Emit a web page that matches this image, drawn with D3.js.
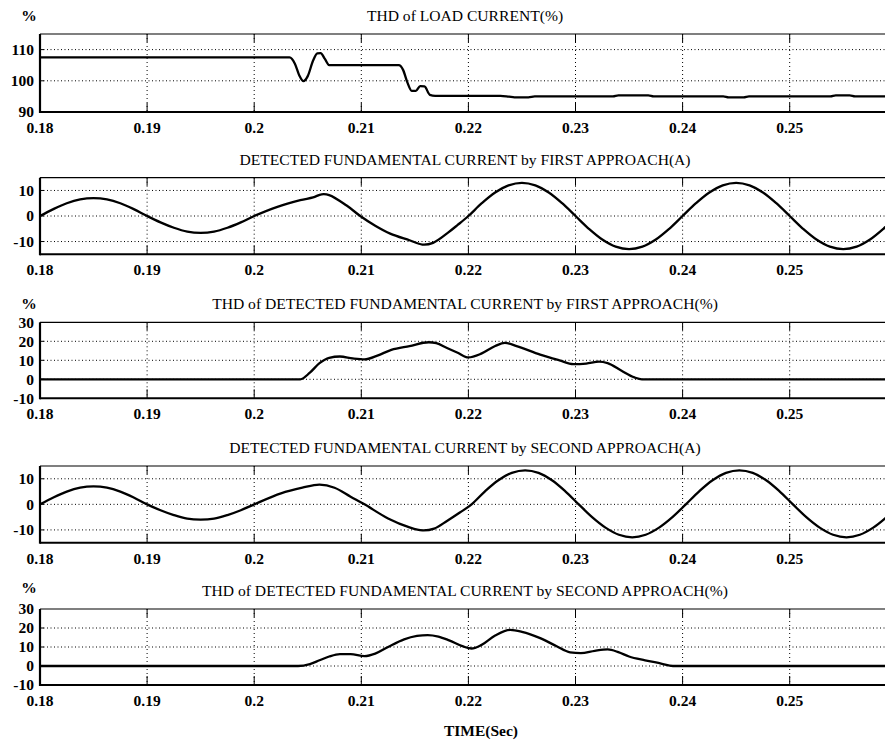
<!DOCTYPE html>
<html><head><meta charset="utf-8">
<script src="https://cdn.jsdelivr.net/npm/d3@7"></script>
<style>
html,body{margin:0;padding:0;background:#fff;overflow:hidden}
svg{display:block}
</style></head><body>
<svg id="chart" width="885" height="740"></svg>
<script>
// ---- data ----
const xTickVals = [0.18, 0.19, 0.20, 0.21, 0.22, 0.23, 0.24, 0.25];
const xTickLabels = ["0.18", "0.19", "0.2", "0.21", "0.22", "0.23", "0.24", "0.25"];

const titles = [
  "THD of LOAD CURRENT(%)",
  "DETECTED FUNDAMENTAL CURRENT by FIRST APPROACH(A)",
  "THD of DETECTED FUNDAMENTAL CURRENT by FIRST APPROACH(%)",
  "DETECTED FUNDAMENTAL CURRENT by SECOND APPROACH(A)",
  "THD of DETECTED FUNDAMENTAL CURRENT by SECOND APPROACH(%)"
];
const unitLabels = ["%", "", "%", "", "%"];
const xAxisTitle = "TIME(Sec)";

const yTicks1 = [90, 100, 110];
const yTicksCur = [-10, 0, 10];
const yTicksThd = [-10, 0, 10, 20, 30];

// Panel 1: THD of load current
const thdLoadT = [0.18, 0.2033, 0.2038, 0.2042, 0.2046, 0.2050, 0.2055, 0.2059, 0.2062, 0.2066, 0.2070, 0.2135, 0.2139, 0.2143, 0.2147, 0.2151, 0.2155, 0.2159, 0.2164, 0.2169, 0.2230, 0.2238, 0.2243, 0.2256, 0.2262, 0.2335, 0.2340, 0.2368, 0.2373, 0.2438, 0.2443, 0.2457, 0.2462, 0.2538, 0.2543, 0.2556, 0.2561, 0.26];
const thdLoadV = [107.5, 107.5, 105.5, 101.8, 99.9, 101.5, 106.5, 108.8, 108.9, 107, 105, 105, 103.5, 99.5, 96.8, 96.8, 98.3, 98.2, 95.5, 95.2, 95.2, 94.9, 94.7, 94.7, 95, 95, 95.3, 95.3, 95, 95, 94.7, 94.7, 95, 95, 95.3, 95.3, 95, 95];

// Panel 2: detected fundamental current, first approach
const fund1T = [0.18, 0.18125, 0.1825, 0.18375, 0.185, 0.18625, 0.1875, 0.18875, 0.19, 0.19125, 0.1925, 0.19375, 0.195, 0.19625, 0.1975, 0.19875, 0.2, 0.2021, 0.2043, 0.2055, 0.2063, 0.2070, 0.2086, 0.2099, 0.2113, 0.2127, 0.2145, 0.2157, 0.2167, 0.2181, 0.2190, 0.22, 0.22125, 0.2225, 0.22375, 0.225, 0.22625, 0.2275, 0.22875, 0.23, 0.23125, 0.2325, 0.23375, 0.235, 0.23625, 0.2375, 0.23875, 0.24, 0.24125, 0.2425, 0.24375, 0.245, 0.24625, 0.2475, 0.24875, 0.25, 0.25125, 0.2525, 0.25375, 0.255, 0.25625, 0.2575, 0.25875, 0.26];
const fund1V = [0, 2.7, 5, 6.5, 7, 6.5, 5, 2.7, 0, -2.5, -4.6, -6.1, -6.6, -6.1, -4.6, -2.5, 0, 3.5, 6.2, 7.3, 8.5, 8.2, 4.2, 0, -3.8, -6.9, -9.5, -11.2, -10.5, -6.5, -3.5, 0, 5, 9.2, 12, 13, 12, 9.2, 5, 0, -5, -9.2, -12, -13, -12, -9.2, -5, 0, 5, 9.2, 12, 13, 12, 9.2, 5, 0, -5, -9.2, -12, -13, -12, -9.2, -5, 0];

// Panel 3: THD of detected fundamental, first approach
const thd1T = [0.18, 0.2043, 0.2052, 0.2061, 0.2070, 0.2080, 0.2092, 0.2103, 0.2115, 0.2128, 0.2145, 0.2163, 0.2170, 0.2180, 0.2190, 0.2200, 0.2212, 0.2225, 0.2234, 0.2245, 0.2267, 0.2285, 0.2298, 0.2310, 0.2322, 0.2330, 0.2343, 0.2355, 0.2362, 0.26];
const thd1V = [0, 0, 3.5, 8.5, 11.3, 12, 11, 10.5, 12.5, 15.5, 17.5, 19.5, 19, 16.5, 14, 11.5, 13.5, 17.5, 19.2, 17.5, 13, 10, 8, 8.3, 9.3, 8.5, 4.5, 1, 0, 0];

// Panel 4: detected fundamental current, second approach
const fund2T = [0.18, 0.18125, 0.1825, 0.18375, 0.185, 0.18625, 0.1875, 0.18875, 0.19, 0.19125, 0.1925, 0.19375, 0.195, 0.19625, 0.1975, 0.19875, 0.2, 0.2025, 0.2045, 0.2061, 0.2075, 0.209, 0.2103, 0.2125, 0.2145, 0.2157, 0.2168, 0.2180, 0.2192, 0.2203, 0.22155, 0.2228, 0.22405, 0.2253, 0.22655, 0.2278, 0.22905, 0.2303, 0.23155, 0.2328, 0.23405, 0.2353, 0.23655, 0.2378, 0.23905, 0.2403, 0.24155, 0.2428, 0.24405, 0.2453, 0.24655, 0.2478, 0.24905, 0.2503, 0.25155, 0.2528, 0.25405, 0.2553, 0.25655, 0.2578, 0.25905, 0.2603];
const fund2V = [0, 2.7, 5, 6.5, 7, 6.5, 5, 2.7, 0, -2.3, -4.2, -5.6, -6, -5.6, -4.2, -2.3, 0, 4.3, 6.5, 7.7, 6.5, 3, 0, -5.5, -9, -10.2, -9.5, -6.5, -3.2, 0, 5.1, 9.4, 12.3, 13.3, 12.3, 9.4, 5.1, 0, -5, -9.1, -11.9, -12.9, -11.9, -9.1, -5, 0, 5.1, 9.4, 12.3, 13.3, 12.3, 9.4, 5.1, 0, -5, -9.1, -11.9, -12.9, -11.9, -9.1, -5, 0];

// Panel 5: THD of detected fundamental, second approach
const thd2T = [0.18, 0.2041, 0.2052, 0.2061, 0.2070, 0.2080, 0.2090, 0.2103, 0.2113, 0.2125, 0.2140, 0.2152, 0.2162, 0.2172, 0.2182, 0.2195, 0.2203, 0.2212, 0.2225, 0.2239, 0.2250, 0.2267, 0.2282, 0.2295, 0.2305, 0.2318, 0.2330, 0.2340, 0.2350, 0.2365, 0.2380, 0.2391, 0.26];
const thd2V = [0, 0, 1, 3, 5, 6.3, 6.3, 5.2, 6.5, 10, 14, 15.8, 16.3, 15.5, 13.5, 10.3, 9.2, 11, 16, 19, 18, 14.7, 10.5, 7.2, 6.8, 8, 8.7, 7.3, 5, 3, 1.3, 0, 0];

// ---- layout ----
const SERIF = "'Liberation Serif', Tinos, 'Times New Roman', Times, 'DejaVu Serif', serif";
const panels = [
  {t: thdLoadT, v: thdLoadV, dom: [90, 115], ticks: yTicks1, top: 34, bot: 112, unitY: 21, curve: d3.curveMonotoneX},
  {t: fund1T, v: fund1V, dom: [-15, 15], ticks: yTicksCur, top: 177.7, bot: 254.3, curve: d3.curveCatmullRom.alpha(0.5)},
  {t: thd1T, v: thd1V, dom: [-10, 30], ticks: yTicksThd, top: 322.3, bot: 398.3, unitY: 309, curve: d3.curveMonotoneX},
  {t: fund2T, v: fund2V, dom: [-15, 15], ticks: yTicksCur, top: 466, bot: 542.7, curve: d3.curveCatmullRom.alpha(0.5)},
  {t: thd2T, v: thd2V, dom: [-10, 30], ticks: yTicksThd, top: 609, bot: 685, unitY: 593, curve: d3.curveMonotoneX}
];

const svg = d3.select("#chart");
svg.append("rect").attr("width", 885).attr("height", 740).attr("fill", "#fff");

const x = d3.scaleLinear().domain([0.18, 0.26]).range([40, 896.8]);
const left = 40, right = 900;

function tick(sel) {
  return sel.attr("font-family", SERIF).attr("font-size", 15.5).attr("font-weight", "bold").attr("fill", "#000");
}

panels.forEach((p, i) => {
  const y = d3.scaleLinear().domain(p.dom).range([p.bot, p.top]);
  const g = svg.append("g");

  const innerY = p.ticks.filter(d => d > p.dom[0] && d < p.dom[1]);
  g.selectAll(".gy").data(innerY).enter().append("line")
    .attr("x1", left).attr("x2", right)
    .attr("y1", d => y(d)).attr("y2", d => y(d))
    .attr("stroke", "#000").attr("stroke-width", 1).attr("stroke-dasharray", "1,2.5");
  const innerX = xTickVals.filter(d => d > 0.18);
  g.selectAll(".gx").data(innerX).enter().append("line")
    .attr("x1", d => x(d)).attr("x2", d => x(d))
    .attr("y1", p.top).attr("y2", p.bot)
    .attr("stroke", "#000").attr("stroke-width", 1).attr("stroke-dasharray", "1,3");

  g.selectAll(".tt").data(innerX).enter().append("line")
    .attr("x1", d => x(d)).attr("x2", d => x(d))
    .attr("y1", p.top).attr("y2", p.top + 8)
    .attr("stroke", "#000").attr("stroke-width", 1);
  g.selectAll(".tb").data(innerX).enter().append("line")
    .attr("x1", d => x(d)).attr("x2", d => x(d))
    .attr("y1", p.bot).attr("y2", p.bot - 9)
    .attr("stroke", "#000").attr("stroke-width", 1);
  g.selectAll(".ty").data(innerY).enter().append("line")
    .attr("x1", left).attr("x2", left + 4)
    .attr("y1", d => y(d)).attr("y2", d => y(d))
    .attr("stroke", "#000").attr("stroke-width", 1);

  g.append("line").attr("x1", left).attr("x2", right).attr("y1", p.top).attr("y2", p.top)
    .attr("stroke", "#000").attr("stroke-width", 1.2);
  g.append("line").attr("x1", left).attr("x2", right).attr("y1", p.bot).attr("y2", p.bot)
    .attr("stroke", "#000").attr("stroke-width", 2);
  g.append("line").attr("x1", left).attr("x2", left).attr("y1", p.top).attr("y2", p.bot + 1)
    .attr("stroke", "#000").attr("stroke-width", 2.2);

  const pts = p.t.map((t, k) => [t, p.v[k]]);
  const line = d3.line().x(d => x(d[0])).y(d => y(d[1])).curve(p.curve);
  g.append("path").attr("d", line(pts)).attr("fill", "none")
    .attr("stroke", "#000").attr("stroke-width", 2.3).attr("stroke-linejoin", "round");

  tick(g.selectAll(".yl").data(p.ticks).enter().append("text"))
    .attr("x", 34).attr("y", d => y(d)).attr("dy", "0.35em")
    .attr("text-anchor", "end").text(d => d);

  tick(g.selectAll(".xl").data(xTickVals).enter().append("text"))
    .attr("x", d => x(d)).attr("y", p.bot + 21)
    .attr("text-anchor", "middle").text((d, k) => xTickLabels[k]);

  g.append("text").attr("font-family", SERIF).attr("font-size", 15.6).attr("fill", "#000")
    .attr("x", 465).attr("y", p.top - 13)
    .attr("text-anchor", "middle").text(titles[i]);

  if (unitLabels[i]) {
    tick(g.append("text")).attr("x", 29).attr("y", p.unitY)
      .attr("text-anchor", "middle").text(unitLabels[i]);
  }
});

tick(svg.append("text")).attr("x", 481).attr("y", 736)
  .attr("text-anchor", "middle").text(xAxisTitle);
</script>
</body></html>
